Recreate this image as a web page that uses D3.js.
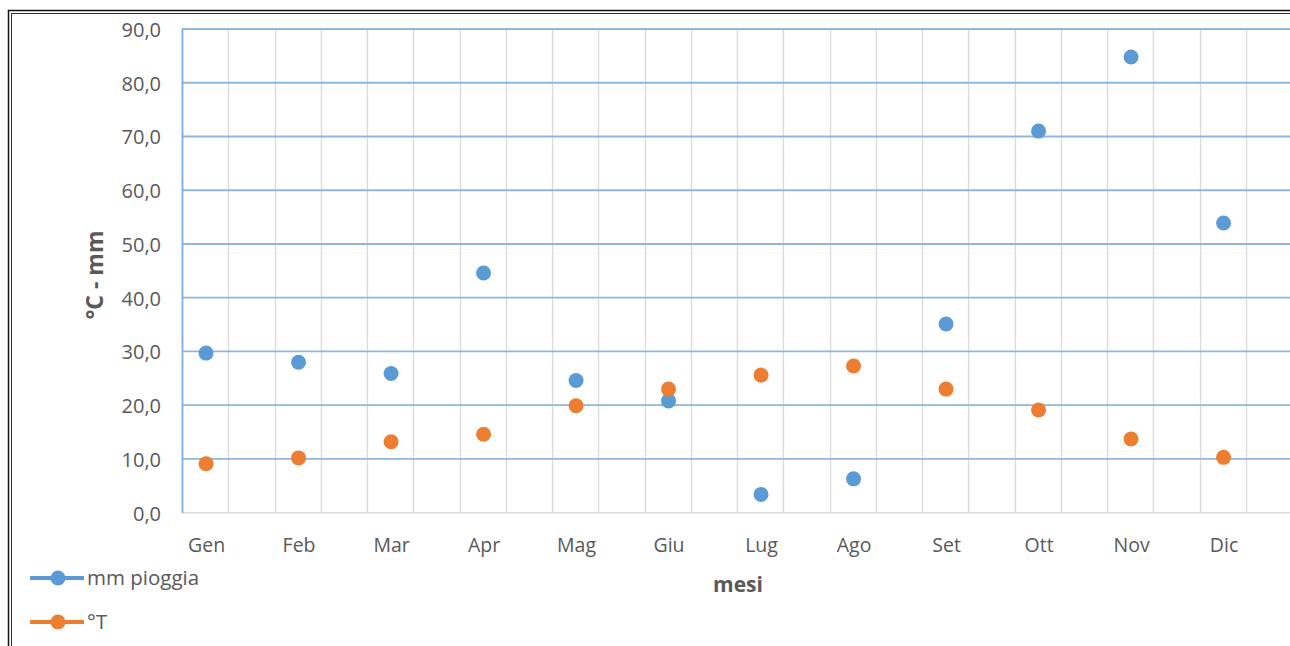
<!DOCTYPE html>
<html><head><meta charset="utf-8">
<script src="https://cdn.jsdelivr.net/npm/d3@7"></script>
<style>body{margin:0;background:#fff;}svg{display:block;font-family:"Open Sans",Lato,sans-serif;}</style>
</head><body>
<svg id="c" width="1290" height="646"></svg>
<script>
const months = ["Gen","Feb","Mar","Apr","Mag","Giu","Lug","Ago","Set","Ott","Nov","Dic"];
const rain = [29.7,28.0,25.9,44.6,24.6,20.8,3.4,6.3,35.1,71.0,84.8,53.9];
const temp = [9.1,10.2,13.2,14.6,19.9,23.0,25.6,27.3,23.0,19.1,13.7,10.3];
const yTicks = [0,10,20,30,40,50,60,70,80,90];
const seriesNames = ["mm pioggia","°T"];
const colors = ["#5B9BD5","#ED7D31"];

const svg = d3.select("#c");
// frame
svg.append("rect").attr("x",8.5).attr("y",10.5).attr("width",1300).attr("height",700).attr("fill","none").attr("stroke","#111").attr("stroke-width",1.5);
svg.append("rect").attr("x",11.5).attr("y",13.5).attr("width",1300).attr("height",700).attr("fill","none").attr("stroke","#333").attr("stroke-width",1);

const x = d3.scaleLinear().domain([-0.26, 11.74]).range([182, 1292]);
const y = d3.scaleLinear().domain([0, 90]).range([512.7, 29]);

// vertical gridlines
const vg = d3.range(1, 25).map(k => -0.26 + k*0.5);
svg.append("g").selectAll("line").data(vg).join("line")
  .attr("x1", d => Math.round(x(d))+0.5).attr("x2", d => Math.round(x(d))+0.5)
  .attr("y1", y(90)).attr("y2", y(0))
  .attr("stroke","#D9D9D9").attr("stroke-width",1.3);

// horizontal gridlines
svg.append("g").selectAll("line").data(yTicks.filter(d=>d>0)).join("line")
  .attr("x1", 182).attr("x2", 1292)
  .attr("y1", d => y(d)).attr("y2", d => y(d))
  .attr("stroke","#8FB6E0").attr("stroke-width",1.8);
// zero line
svg.append("line").attr("x1",182).attr("x2",1292).attr("y1",y(0)).attr("y2",y(0)).attr("stroke","#D9D9D9").attr("stroke-width",1.5);
// y axis line
svg.append("line").attr("x1",182.5).attr("x2",182.5).attr("y1",y(90)).attr("y2",y(0)).attr("stroke","#7FAEDD").attr("stroke-width",1.8);

// y tick labels via axis
const yAxis = d3.axisLeft(y).tickValues(yTicks).tickSize(0).tickPadding(21)
  .tickFormat(d => d3.format(".1f")(d).replace(".", ","));
const ga = svg.append("g").attr("transform","translate(182,0)").call(yAxis);
ga.select(".domain").remove();
ga.selectAll("text").attr("font-size",20).attr("dy","0.37em").attr("fill","#595959").attr("font-family","'Open Sans',sans-serif");

// x tick labels
const xAxis = d3.axisBottom(x).tickValues(d3.range(12)).tickSize(0).tickFormat(i => months[i]);
const gx = svg.append("g").attr("transform",`translate(0,${y(0)})`).call(xAxis);
gx.select(".domain").remove();
gx.selectAll("text").attr("y", 552 - y(0)).attr("dy", 0).attr("font-size",19.5).attr("fill","#595959").attr("font-family","'Open Sans',sans-serif");

// titles
svg.append("text").attr("transform","translate(103,275) rotate(-90)").attr("text-anchor","middle")
  .attr("font-size",23).attr("font-weight","bold").attr("fill","#595959").text("°C - mm");
svg.append("text").attr("x",738).attr("y",592).attr("text-anchor","middle")
  .attr("font-size",21).attr("font-weight","bold").attr("fill","#595959").text("mesi");

// points
[rain, temp].forEach((vals, si) => {
  svg.append("g").selectAll("circle").data(vals).join("circle")
    .attr("cx", (d,i) => x(i)).attr("cy", d => y(d)).attr("r", 7.5)
    .attr("fill", colors[si]);
});

// legend
const ly = [578, 622];
seriesNames.forEach((name, i) => {
  const g = svg.append("g");
  g.append("line").attr("x1",30).attr("x2",84).attr("y1",ly[i]).attr("y2",ly[i]).attr("stroke",colors[i]).attr("stroke-width",4);
  g.append("circle").attr("cx",58).attr("cy",ly[i]).attr("r",7.5).attr("fill",colors[i]);
  g.append("text").attr("x",87).attr("y",ly[i]+6.5).attr("font-size",20.5).attr("fill","#595959").text(name);
});
</script>
</body></html>
